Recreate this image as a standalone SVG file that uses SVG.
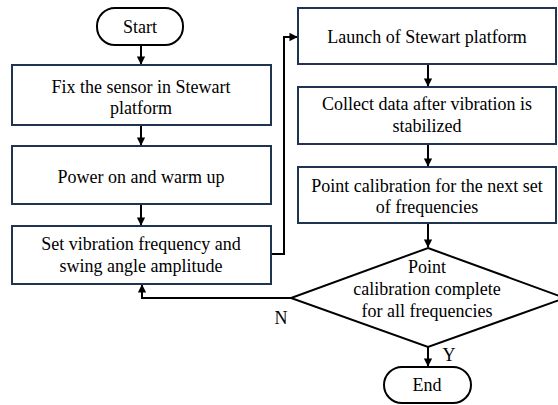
<svg xmlns="http://www.w3.org/2000/svg" width="558" height="405" viewBox="0 0 558 405">
  <style>
    .box { fill: #ffffff; stroke: #1f3450; stroke-width: 2; }
    .term { fill: #ffffff; stroke: #000000; stroke-width: 2; }
    .dec { fill: #ffffff; stroke: #000000; stroke-width: 2; }
    .link { fill: none; stroke: #000000; stroke-width: 2; }
    text { font-family: 'Liberation Serif', 'Times New Roman', 'DejaVu Serif', serif; font-size: 18px; fill: #000000; text-anchor: middle; }
  </style>
  <defs>
    <marker id="arrow" viewBox="0 0 10 10" refX="9" refY="5" markerWidth="4.2" markerHeight="4.2" markerUnits="strokeWidth" orient="auto">
      <path d="M0,0 L10,5 L0,10 z" fill="#000000"/>
    </marker>
  </defs>

  <g id="connectors">
    <line class="link" x1="141" y1="45" x2="141" y2="64" marker-end="url(#arrow)"/>
    <line class="link" x1="141" y1="125" x2="141" y2="145" marker-end="url(#arrow)"/>
    <line class="link" x1="141" y1="204" x2="141" y2="225" marker-end="url(#arrow)"/>
    <polyline class="link" points="271,254 284,254 284,37 297,37" marker-end="url(#arrow)"/>
    <line class="link" x1="428" y1="64" x2="428" y2="86" marker-end="url(#arrow)"/>
    <line class="link" x1="428" y1="144" x2="428" y2="166" marker-end="url(#arrow)"/>
    <line class="link" x1="428" y1="223" x2="428" y2="247" marker-end="url(#arrow)"/>
    <polyline class="link" points="291,298 142,298 142,285" marker-end="url(#arrow)"/>
    <line class="link" x1="428" y1="347" x2="428" y2="366" marker-end="url(#arrow)"/>
    <text x="281" y="324">N</text>
    <text x="449" y="361">Y</text>
  </g>

  <g id="start">
    <rect class="term" x="97" y="8" width="86" height="37" rx="18" ry="18"/>
    <text x="140" y="33">Start</text>
  </g>

  <g id="fix-sensor">
    <rect class="box" x="12" y="65" width="259" height="60"/>
    <text x="141" y="93">Fix the sensor in Stewart</text>
    <text x="141" y="114">platform</text>
  </g>

  <g id="power-on">
    <rect class="box" x="12" y="146" width="259" height="58"/>
    <text x="141" y="183">Power on and warm up</text>
  </g>

  <g id="set-vibration">
    <rect class="box" x="12" y="226" width="259" height="58"/>
    <text x="141" y="250">Set vibration frequency and</text>
    <text x="141" y="272">swing angle amplitude</text>
  </g>

  <g id="launch">
    <rect class="box" x="298" y="8" width="258" height="56"/>
    <text x="427" y="43">Launch of Stewart platform</text>
  </g>

  <g id="collect">
    <rect class="box" x="298" y="87" width="258" height="57"/>
    <text x="427" y="110">Collect data after vibration is</text>
    <text x="427" y="132">stabilized</text>
  </g>

  <g id="point-calibration">
    <rect class="box" x="298" y="167" width="258" height="56"/>
    <text x="427" y="192">Point calibration for the next set</text>
    <text x="427" y="213">of frequencies</text>
  </g>

  <g id="decision">
    <polygon class="dec" points="428,248 565,298 428,347 291,298"/>
    <text x="427" y="273">Point</text>
    <text x="427" y="295">calibration complete</text>
    <text x="427" y="317">for all frequencies</text>
  </g>

  <g id="end">
    <rect class="term" x="384" y="367" width="87" height="36" rx="18" ry="18"/>
    <text x="427" y="391">End</text>
  </g>
</svg>
